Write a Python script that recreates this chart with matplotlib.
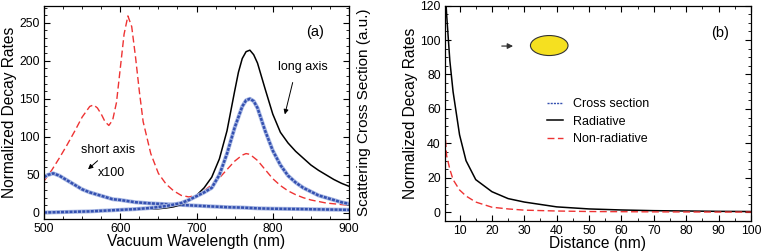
import numpy as np
import matplotlib
matplotlib.use('Agg')
import matplotlib.pyplot as plt
from matplotlib.patches import Ellipse
from matplotlib.ticker import MultipleLocator

plt.rcParams['font.family'] = ['Liberation Sans', 'DejaVu Sans']

# panel (a): spectra vs vacuum wavelength
wl_red = [500, 510, 520, 530, 540, 550, 560, 565, 570, 575, 580, 585, 590, 595, 600, 605, 610,
          615, 620, 625, 630, 640, 650, 660, 670, 680, 690, 700, 710, 720, 730, 740, 750, 760,
          765, 770, 780, 790, 800, 810, 820, 830, 840, 850, 860, 870, 880, 890, 900]
nonrad_a = [42, 56, 72, 89, 107, 126, 140, 142, 138, 130, 120, 115, 122, 145, 190, 235, 259,
            245, 205, 160, 120, 78, 52, 38, 29, 23, 21, 23, 29, 37, 46, 57, 68, 76,
            78, 77, 69, 57, 45, 36, 29, 24, 20, 17, 15, 13, 12, 11, 10]

wl_black = [500, 520, 540, 560, 580, 600, 615, 630, 640, 650, 660, 670, 680, 690, 700, 710,
            720, 730, 740, 750, 755, 760, 765, 770, 775, 780, 790, 800, 810, 820, 830, 840,
            850, 860, 870, 880, 890, 900]
rad_a = [0.5, 0.8, 1, 1.5, 2.5, 4, 5.5, 5, 5, 5.5, 6.5, 8, 11, 16, 23, 33,
         47, 71, 108, 160, 185, 203, 212, 214, 208, 197, 163, 130, 106, 92, 81, 72,
         63, 56, 50, 44, 39, 35]

wl_long = [500, 520, 540, 560, 580, 600, 620, 640, 660, 680, 690, 700, 710, 720, 730, 740,
           750, 760, 765, 770, 775, 780, 790, 800, 810, 820, 830, 840, 850, 860, 870, 880,
           890, 900]
cross_long = [0.5, 1, 1.5, 2, 3, 4, 5, 6.5, 9, 13, 17, 22, 27, 33, 50, 78,
              112, 140, 148, 150, 147, 138, 108, 82, 63, 49, 40, 33, 28, 23, 20, 17,
              14, 12]

wl_short = [500, 505, 512, 520, 530, 540, 550, 560, 570, 580, 590, 600, 620, 640, 660, 680,
            700, 720, 740, 760, 780, 800, 840, 870, 900]
cross_short = [47, 50, 52, 49, 43, 37, 31, 27, 24, 21, 18, 17, 14, 12.5, 11.5, 10.5,
               9.5, 8.5, 7.5, 7, 6, 5.5, 5, 4.5, 4]

# panel (b): decay rates vs distance
dist = [5, 6, 7, 8, 10, 12, 15, 20, 25, 30, 40, 50, 60, 70, 80, 90, 100]
rad_b = [150, 115, 88, 70, 45, 30, 19, 12, 8, 6, 3.2, 2, 1.4, 1, 0.8, 0.6, 0.5]
nonrad_b = [60, 33, 25, 19, 13, 9.5, 6, 3, 2, 1.3, 0.8, 0.5, 0.4, 0.3, 0.25, 0.2, 0.2]

red = '#ee3333'
blue = '#3450b0'

fig = plt.figure(figsize=(7.63, 2.52), dpi=100)
ax1 = fig.add_axes([0.0577, 0.131, 0.3997, 0.845])
ax2 = fig.add_axes([0.5832, 0.123, 0.401, 0.855])

for ax in (ax1, ax2):
    ax.tick_params(which='both', direction='in', top=True, right=True, labelsize=8.8, pad=3)
    ax.tick_params(which='major', length=4, width=0.8)
    ax.tick_params(which='minor', length=2, width=0.6)
    for s in ax.spines.values():
        s.set_linewidth(0.9)

# (a)
ax1.plot(wl_red, nonrad_a, color=red, lw=1, dashes=(5, 2.5))
ax1.plot(wl_short, cross_short, color='#a8b8e4', lw=2.9, solid_capstyle='butt')
ax1.plot(wl_short, cross_short, color=blue, lw=1.8, dashes=(1.2, 0.5))
ax1.plot(wl_black, rad_a, color='black', lw=1.1)
ax1.plot(wl_long, cross_long, color='#a8b8e4', lw=2.9, solid_capstyle='butt')
ax1.plot(wl_long, cross_long, color=blue, lw=1.8, dashes=(1.2, 0.5))
ax1.set_xlim(500, 900)
ax1.set_ylim(-8, 272)
ax1.xaxis.set_major_locator(MultipleLocator(100))
ax1.xaxis.set_minor_locator(MultipleLocator(25))
ax1.yaxis.set_major_locator(MultipleLocator(50))
ax1.yaxis.set_minor_locator(MultipleLocator(10))
ax1.set_xlabel('Vacuum Wavelength (nm)', fontsize=11.2, labelpad=-1)
ax1.set_ylabel('Normalized Decay Rates', fontsize=11.2, labelpad=2)
ax1.text(1.05, 0.5, 'Scattering Cross Section (a.u.)', transform=ax1.transAxes,
         rotation=90, ha='center', va='center', fontsize=11)
ax1.text(855, 238, '(a)', fontsize=10.5, ha='center', va='center')
ax1.text(840, 192, 'long axis', fontsize=9, ha='center', va='center')
ax1.annotate('', xy=(815, 126), xytext=(827, 175),
             arrowprops=dict(arrowstyle='-|>', color='black', lw=0.7, mutation_scale=7))
ax1.text(584, 83, 'short axis', fontsize=9, ha='center', va='center')
ax1.text(589, 52, 'x100', fontsize=9, ha='center', va='center')
ax1.annotate('', xy=(555, 55), xytext=(573, 71),
             arrowprops=dict(arrowstyle='-|>', color='black', lw=0.7, mutation_scale=7))

# (b)
ax2.plot([], [], color=blue, lw=1, dashes=(1.5, 0.8), label='Cross section')
ax2.plot(dist, rad_b, color='black', lw=1.1, label='Radiative')
ax2.plot(dist, nonrad_b, color=red, lw=1, dashes=(5, 2.5), label='Non-radiative')
ax2.set_xlim(5.5, 100)
ax2.set_ylim(-5, 120)
ax2.xaxis.set_major_locator(MultipleLocator(10))
ax2.xaxis.set_minor_locator(MultipleLocator(5))
ax2.yaxis.set_major_locator(MultipleLocator(20))
ax2.yaxis.set_minor_locator(MultipleLocator(5))
ax2.set_xlabel('Distance (nm)', fontsize=11.2, labelpad=-1)
ax2.set_ylabel('Normalized Decay Rates', fontsize=11.2, labelpad=2)
ax2.text(90.4, 104, '(b)', fontsize=10.5, ha='center', va='center')
ax2.add_patch(Ellipse((37.7, 96.8), 11.6, 11.6, facecolor='#f5e020', edgecolor='#333333', lw=0.8))
ax2.annotate('', xy=(27.4, 96.5), xytext=(22.2, 96.5),
             arrowprops=dict(arrowstyle='-|>', color='#333333', lw=0.9, mutation_scale=8))
ax2.legend(loc='upper left', bbox_to_anchor=(0.333, 0.57), frameon=False, fontsize=9,
           borderpad=0, borderaxespad=0, handlelength=1.3, handletextpad=0.8, labelspacing=0.45)

fig.savefig('out.png', dpi=100)
